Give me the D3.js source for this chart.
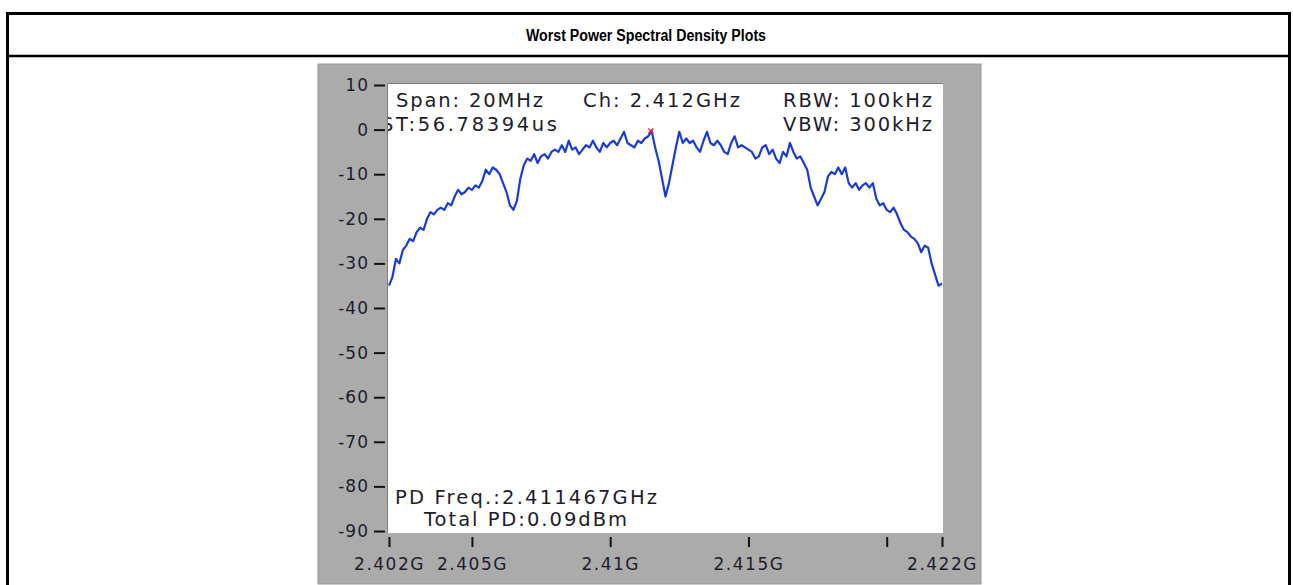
<!DOCTYPE html>
<html>
<head>
<meta charset="utf-8">
<script src="https://cdn.jsdelivr.net/npm/d3@7"></script>
<style>
  body { margin: 0; background: #fff; }
  svg { display: block; }
</style>
</head>
<body>
<script>
// Worst-case PSD trace, 2.402 - 2.422 GHz, 0.125 MHz step (dB)
const freqStart = 2.402
const freqStep = 0.000125
const psd = [
  -35, -33, -29, -30, -27, -26, -24.5, -25, -23, -22,
  -22.5, -20, -18.5, -19, -18, -17.5, -18, -16.5, -17, -15,
  -13.5, -14.5, -14, -13, -13.5, -12.5, -13, -11.5, -9, -10,
  -8.5, -9, -10, -12, -14, -17, -18, -16, -11, -8,
  -6.5, -7, -5.5, -7.5, -6, -5.5, -6.5, -5, -4.5, -5,
  -3.5, -5, -2.5, -4.5, -4, -5.5, -4.5, -3.5, -4, -2.5,
  -4, -5, -3, -4, -3, -2.5, -3.5, -2, -0.5, -3,
  -3.5, -4, -2.5, -3, -2, -1.5, -0.3, -4, -7, -11,
  -15, -12, -8, -4, -0.5, -3, -2, -3, -2.5, -4,
  -5, -2.5, -0.5, -3, -3.5, -2.5, -3.5, -5, -5.5, -3,
  -1.5, -4, -3.5, -4, -4.5, -5, -6.5, -6, -4, -3.5,
  -5.5, -4.5, -6.5, -7.5, -5, -6, -3, -5, -6.5, -6,
  -7.5, -9, -13, -15, -17, -15.5, -14, -10.5, -9.5, -10,
  -8.5, -10, -8.5, -12, -13, -12, -13.5, -12.5, -12, -13,
  -12, -15.5, -17, -16.5, -18, -18.5, -17.5, -19, -21, -22.5,
  -23, -24, -24.5, -25.5, -27.5, -26, -26.5, -30, -32.5, -35,
  -34.5
]
const peak = { f: 2.411467, v: -0.3 }

const xTicks = [2.402, 2.405, 2.41, 2.415, 2.42, 2.422]
const xTickLabels = ["2.402G", "2.405G", "2.41G", "2.415G", "", "2.422G"]
const yTicks = [10, 0, -10, -20, -30, -40, -50, -60, -70, -80, -90]

const title = "Worst Power Spectral Density Plots"
const notes = [
  { text: "Span: 20MHz", x: 396, y: 107, len: 147 },
  { text: "Ch: 2.412GHz", x: 583, y: 107, len: 157 },
  { text: "RBW: 100kHz", x: 783, y: 107, len: 149 },
  { text: "ST:56.78394us", x: 381, y: 131, len: 176 },
  { text: "VBW: 300kHz", x: 783, y: 131, len: 149 },
  { text: "PD Freq.:2.411467GHz", x: 395, y: 504, len: 262 },
  { text: "Total PD:0.09dBm", x: 424, y: 526, len: 203 }
]

const W = 1293, H = 585
const svg = d3.select("body").append("svg")
  .attr("width", W)
  .attr("height", H)

// table frame
svg.append("rect")
  .attr("x", 7.5).attr("y", 13.5)
  .attr("width", 1282).attr("height", 600)
  .attr("fill", "none")
  .attr("stroke", "#000")
  .attr("stroke-width", 3)
svg.append("line")
  .attr("x1", 7).attr("x2", 1290)
  .attr("y1", 56).attr("y2", 56)
  .attr("stroke", "#000")
  .attr("stroke-width", 2.5)

svg.append("text")
  .attr("x", 526).attr("y", 41)
  .attr("textLength", 240)
  .attr("lengthAdjust", "spacingAndGlyphs")
  .attr("font-family", "Liberation Sans, Arial, sans-serif")
  .attr("font-weight", "bold")
  .attr("font-size", "16px")
  .text(title)

// gray instrument panel
svg.append("rect")
  .attr("x", 318).attr("y", 64)
  .attr("width", 663).attr("height", 520)
  .attr("fill", "#ababab")
  .attr("stroke", "#9a9a9a")

const plot = { left: 387, top: 83, right: 943, bottom: 533 }

let x = d3.scaleLinear()
  .domain([2.402, 2.422])
  .range([389, 942])
let y = d3.scaleLinear()
  .domain([-90, 10])
  .range([531, 85])

svg.append("rect")
  .attr("x", plot.left).attr("y", plot.top)
  .attr("width", plot.right - plot.left)
  .attr("height", plot.bottom - plot.top)
  .attr("fill", "#fff")
svg.append("path")
  .attr("d", `M${plot.left + 0.5},${plot.bottom}V${plot.top + 0.5}H${plot.right}`)
  .attr("fill", "none")
  .attr("stroke", "#7d7d7d")

svg.append("clipPath").attr("id", "plotClip")
  .append("rect")
  .attr("x", plot.left + 1).attr("y", plot.top + 1)
  .attr("width", plot.right - plot.left - 1)
  .attr("height", plot.bottom - plot.top - 1)

const axisFont = "DejaVu Sans, Verdana, sans-serif"

// y axis (dash ticks)
let yAxis = svg.append("g")
  .attr("transform", "translate(385,0)")
  .call(d3.axisLeft(y).tickValues(yTicks).tickSize(11).tickPadding(5)
    .tickFormat(d => String(d).replace("\u2212", "-")))
yAxis.select(".domain").remove()
yAxis.selectAll(".tick line").attr("stroke", "#111").attr("stroke-width", 2)
yAxis.selectAll(".tick text")
  .attr("font-family", axisFont)
  .attr("font-size", "17px")
  .attr("letter-spacing", "1px")
  .attr("fill", "#1d1d2b")

// x axis
let xAxis = svg.append("g")
  .attr("transform", "translate(0,537)")
  .call(d3.axisBottom(x).tickValues(xTicks).tickSize(10).tickPadding(11)
    .tickFormat((d, i) => xTickLabels[i]))
xAxis.select(".domain").remove()
xAxis.selectAll(".tick line").attr("stroke", "#111").attr("stroke-width", 2)
xAxis.selectAll(".tick text")
  .attr("font-family", axisFont)
  .attr("font-size", "17px")
  .attr("letter-spacing", "1.5px")
  .attr("fill", "#1d1d2b")

// trace
const layer = svg.append("g").attr("clip-path", "url(#plotClip)")

let line = d3.line()
  .x((d, i) => x(freqStart + i * freqStep))
  .y(d => y(d))

layer.append("path")
  .datum(psd)
  .attr("d", line)
  .attr("fill", "none")
  .attr("stroke", "#1a3cd6")
  .attr("stroke-width", 2.2)
  .attr("stroke-linejoin", "round")

// peak marker
const px = x(peak.f), py = y(peak.v)
layer.append("path")
  .attr("d", `M${px - 2.5},${py - 2.5}L${px + 2.5},${py + 2.5}M${px - 2.5},${py + 2.5}L${px + 2.5},${py - 2.5}`)
  .attr("stroke", "#e8252f")
  .attr("stroke-width", 1.3)

// readout texts
layer.selectAll("text.note")
  .data(notes)
  .enter()
  .append("text")
  .attr("class", "note")
  .attr("x", d => d.x)
  .attr("y", d => d.y)
  .attr("textLength", d => d.len)
  .attr("lengthAdjust", "spacing")
  .attr("font-family", axisFont)
  .attr("font-size", "19.5px")
  .attr("fill", "#1d1d2b")
  .text(d => d.text)
</script>
</body>
</html>
